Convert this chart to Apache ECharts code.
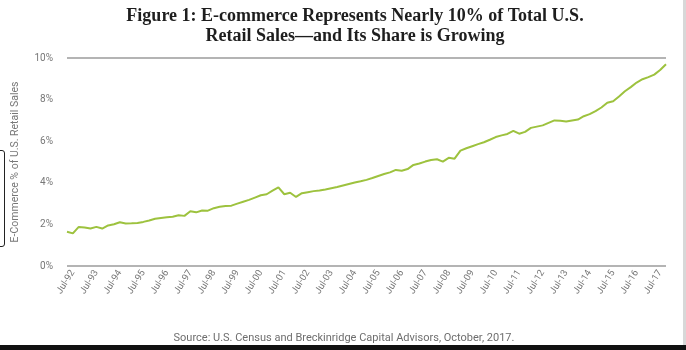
<!DOCTYPE html>
<html>
<head>
<meta charset="utf-8">
<script src="https://cdn.jsdelivr.net/npm/echarts@6/dist/echarts.min.js"></script>
<style>
html,body{margin:0;padding:0;background:#fff;}
body{width:686px;height:350px;overflow:hidden;position:relative;}
#chart{position:absolute;left:0;top:0;width:686px;height:350px;}
#bar{position:absolute;left:0;top:345px;width:686px;height:5px;background:#111;}
#edge{position:absolute;left:683px;top:0;width:3px;height:345px;background:#d8d8d8;}
#tab{position:absolute;left:-6px;top:150px;width:9px;height:95px;border:1.5px solid #222;border-radius:3px;}
</style>
</head>
<body>
<div id="edge"></div>
<div id="tab"></div>
<div id="chart"></div>
<div id="bar"></div>
<script>
// Quarterly periods, Apr-92 .. Oct-17
const quarterMonths = ['Jan', 'Apr', 'Jul', 'Oct'];
const firstYear = 1992, lastYear = 2017;
// E-commerce share of total U.S. retail sales (%)
const ecommerceShare = [
  1.65, 1.57, 1.88, 1.85, 1.80, 1.88, 1.80, 1.95, 2.01, 2.10,
  2.04, 2.05, 2.07, 2.12, 2.19, 2.27, 2.31, 2.34, 2.37, 2.44,
  2.41, 2.63, 2.58, 2.67, 2.66, 2.78, 2.85, 2.88, 2.90, 3.00,
  3.09, 3.18, 3.29, 3.40, 3.45, 3.62, 3.78, 3.45, 3.52, 3.32,
  3.50, 3.55, 3.60, 3.63, 3.68, 3.74, 3.80, 3.87, 3.94, 4.01,
  4.07, 4.14, 4.23, 4.33, 4.42, 4.50, 4.62, 4.58, 4.66, 4.86,
  4.93, 5.02, 5.10, 5.13, 5.02, 5.20, 5.16, 5.55, 5.66, 5.76,
  5.86, 5.95, 6.07, 6.20, 6.28, 6.35, 6.50, 6.36, 6.45, 6.64,
  6.70, 6.76, 6.88, 7.00, 6.98, 6.95, 7.00, 7.04, 7.20, 7.30,
  7.45, 7.62, 7.85, 7.92, 8.15, 8.40, 8.60, 8.82, 8.98, 9.08,
  9.20, 9.42, 9.70
];
const yTicks = [0, 2, 4, 6, 8, 10];

const categories = [];
for (let y = firstYear; y <= lastYear; y++) {
  for (let q = 0; q < 4; q++) {
    if (y === firstYear && q === 0) continue;
    categories.push(quarterMonths[q] + '-' + String(y).slice(2));
  }
}
const cats = categories.slice(0, ecommerceShare.length);

const chart = echarts.init(document.getElementById('chart'), null, {renderer: 'canvas'});
chart.setOption({
  backgroundColor: 'transparent',
  animation: false,
  title: [{
    text: 'Figure 1: E-commerce Represents Nearly 10% of Total U.S.\nRetail Sales\u2014and Its Share is Growing',
    left: 350, top: 1, textAlign: 'center',
    textStyle: {fontFamily: 'Liberation Serif', fontWeight: 'bold', fontSize: 18, lineHeight: 20, color: '#1e1e1e'}
  }, {
    text: 'Source: U.S. Census and Breckinridge Capital Advisors, October, 2017.',
    left: 339, top: 328, textAlign: 'center',
    textStyle: {fontFamily: 'Roboto', fontWeight: 'normal', fontSize: 11, color: '#6e6e6e'}
  }],
  grid: {left: 67, right: 20, top: 58, bottom: 84},
  xAxis: {
    type: 'category', data: cats, boundaryGap: false,
    axisLine: {show: false}, axisTick: {show: false},
    axisLabel: {
      interval: (i) => i % 4 === 1,
      rotate: 58, margin: 5,
      fontFamily: 'Roboto', fontSize: 9.5, color: '#777'
    }
  },
  yAxis: {
    type: 'value', min: 0, max: 10, interval: 2,
    name: 'E-Commerce % of U.S. Retail Sales', nameLocation: 'middle', nameGap: 46,
    nameTextStyle: {fontFamily: 'Roboto', fontSize: 10.5, color: '#777'},
    axisLine: {show: false}, axisTick: {show: false},
    axisLabel: {formatter: '{value}%', margin: 14, fontFamily: 'Roboto', fontSize: 10, color: '#777'},
    splitLine: {show: true, lineStyle: {width: 2, color: ['#b4b4b4', 'rgba(0,0,0,0)', 'rgba(0,0,0,0)', 'rgba(0,0,0,0)', 'rgba(0,0,0,0)', '#b4b4b4']}}
  },
  series: [{
    type: 'line', data: ecommerceShare, showSymbol: false, smooth: false,
    lineStyle: {color: '#9dc23e', width: 2}
  }]
});
</script>
</body>
</html>
